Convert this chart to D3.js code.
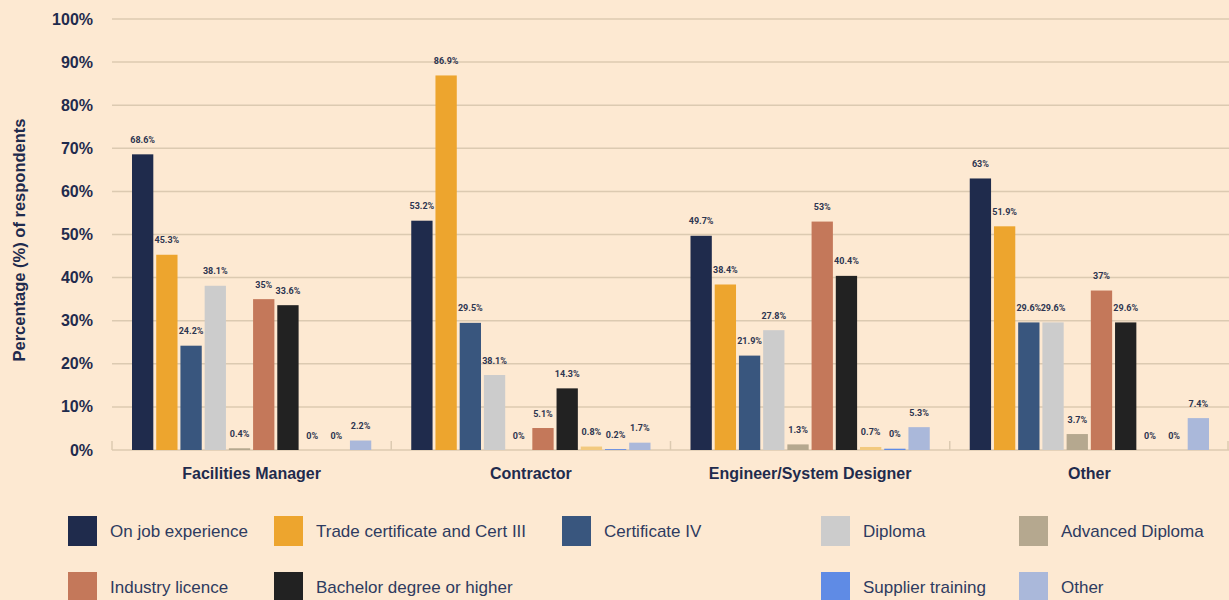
<!DOCTYPE html>
<html>
<head>
<meta charset="utf-8">
<script src="https://cdn.jsdelivr.net/npm/d3@7"></script>
<style>
body{margin:0;background:#fde9d2;}
svg{display:block;}
</style>
</head>
<body>
<svg id="chart" width="1229" height="600"></svg>
<script>
var groups = ["Facilities Manager","Contractor","Engineer/System Designer","Other"];
var seriesNames = ["On job experience","Trade certificate and Cert III","Certificate IV","Diploma",
  "Advanced Diploma","Industry licence","Bachelor degree or higher","","Supplier training","Other"];
var seriesColors = ["#1f2b4c","#eda52e","#39567e","#cccccc","#b5a88f","#c4785a","#222222","#f2c97e","#5f8be5","#aab8da"];
// bar heights per group (same order as seriesNames)
var values = [
  [68.6,45.3,24.2,38.1,0.4,35,33.6,0,0,2.2],
  [53.2,86.9,29.5,17.4,0,5.1,14.3,0.8,0.2,1.7],
  [49.7,38.4,21.9,27.8,1.3,53,40.4,0.7,0.3,5.3],
  [63,51.9,29.6,29.6,3.7,37,29.6,0,0,7.4]
];
// labels as printed on the chart
var labels = [
  ["68.6%","45.3%","24.2%","38.1%","0.4%","35%","33.6%","0%","0%","2.2%"],
  ["53.2%","86.9%","29.5%","38.1%","0%","5.1%","14.3%","0.8%","0.2%","1.7%"],
  ["49.7%","38.4%","21.9%","27.8%","1.3%","53%","40.4%","0.7%","0%","5.3%"],
  ["63%","51.9%","29.6%","29.6%","3.7%","37%","29.6%","0%","0%","7.4%"]
];
var yTicks = [0,10,20,30,40,50,60,70,80,90,100];
// legend: series index, column, row
var legendItems = [[0,0,0],[1,1,0],[2,2,0],[3,3,0],[4,4,0],[5,0,1],[6,1,1],[8,3,1],[9,4,1]];
var legendCols = [68,274,562,821,1019];

var svg = d3.select("#chart");
var mLeft=112, mRight=1229, mTop=19, mBottom=450;

var x0 = d3.scaleBand().domain(groups).range([mLeft,mRight]);
var x1 = d3.scaleBand().domain(d3.range(seriesNames.length))
  .range([20, x0.bandwidth()-20]).paddingInner(0.12);
var y = d3.scaleLinear().domain([0,100]).range([mBottom,mTop]);

// grid lines
svg.append("g").selectAll("line").data(yTicks).enter().append("line")
  .attr("x1",mLeft).attr("x2",mRight)
  .attr("y1",function(d){return y(d);}).attr("y2",function(d){return y(d);})
  .attr("stroke","#dccab1").attr("stroke-width",1.5);

// y tick labels
svg.append("g").selectAll("text").data(yTicks).enter().append("text")
  .attr("x",93).attr("y",function(d){return y(d)+5.5;})
  .attr("text-anchor","end")
  .style("font-family","Liberation Sans, Arial, sans-serif")
  .style("font-weight","bold").style("font-size","16px").style("fill","#1f2b4d")
  .text(function(d){return d+"%";});

// group separator ticks
var sep = groups.map(function(g){return x0(g);}).concat([mRight-1]);
svg.append("g").selectAll("line").data(sep).enter().append("line")
  .attr("x1",function(d){return d;}).attr("x2",function(d){return d;})
  .attr("y1",mBottom-9).attr("y2",mBottom)
  .attr("stroke","#dccab1").attr("stroke-width",1.5);

// bars
var gGroups = svg.append("g").selectAll("g").data(values).enter().append("g")
  .attr("transform",function(d,i){return "translate("+x0(groups[i])+",0)";});

gGroups.selectAll("rect").data(function(d){return d;}).enter().append("rect")
  .attr("x",function(d,i){return x1(i);})
  .attr("width",x1.bandwidth())
  .attr("y",function(d){return y(d);})
  .attr("height",function(d){return mBottom-y(d);})
  .attr("fill",function(d,i){return seriesColors[i];});

gGroups.selectAll("text").data(function(d,gi){
    return d.map(function(v,i){return {v:v,label:labels[gi][i]};});
  }).enter().append("text")
  .attr("x",function(d,i){return x1(i)+x1.bandwidth()/2;})
  .attr("y",function(d){return y(d.v)-11.5;})
  .attr("text-anchor","middle")
  .style("font-family","Roboto, sans-serif").style("font-weight","bold")
  .style("font-size","9px").style("fill","#2d3550")
  .text(function(d){return d.label;});

// group labels
svg.append("g").selectAll("text").data(groups).enter().append("text")
  .attr("x",function(d){return x0(d)+x0.bandwidth()/2;})
  .attr("y",479)
  .attr("text-anchor","middle")
  .style("font-family","Liberation Sans, Arial, sans-serif")
  .style("font-weight","bold").style("font-size","16px").style("fill","#1f2b4d")
  .text(function(d){return d;});

// y axis title
svg.append("text")
  .attr("transform","translate(25,240) rotate(-90)")
  .attr("text-anchor","middle")
  .style("font-family","Liberation Sans, Arial, sans-serif")
  .style("font-weight","bold").style("font-size","16.5px").style("fill","#1f2b4d")
  .text("Percentage (%) of respondents");

// legend
var leg = svg.append("g").selectAll("g").data(legendItems).enter().append("g")
  .attr("transform",function(d){return "translate("+legendCols[d[1]]+","+(d[2]?572:516)+")";});
leg.append("rect").attr("width",29).attr("height",30)
  .attr("fill",function(d){return seriesColors[d[0]];});
leg.append("text").attr("x",42).attr("y",21)
  .style("font-family","Liberation Sans, Arial, sans-serif")
  .style("font-size","17px").style("fill","#2e3b60")
  .text(function(d){return seriesNames[d[0]];});
</script>
</body>
</html>
